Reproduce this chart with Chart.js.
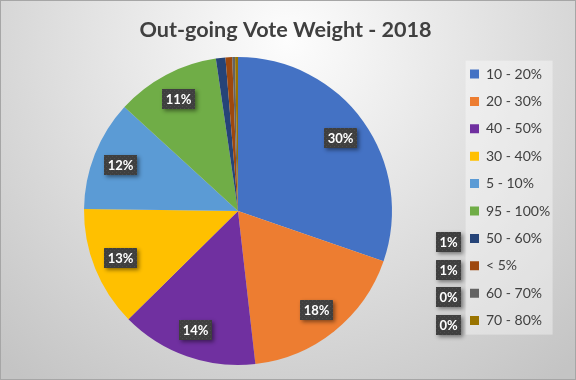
<!DOCTYPE html>
<html><head><meta charset="utf-8">
<script src="https://cdn.jsdelivr.net/npm/chart.js@4"></script>
<style>html,body{margin:0;padding:0;background:#fff}canvas{display:block}</style>
</head><body>
<canvas id="c" width="576" height="380"></canvas>
<script>
const titleText = 'Out-going Vote Weight - 2018';
const categories = ['10 - 20%','20 - 30%','40 - 50%','30 - 40%','5 - 10%','95 - 100%','50 - 60%','< 5%','60 - 70%','70 - 80%'];
const shares = [30.3, 17.9, 14.4, 12.6, 11.6, 10.9, 1.0, 0.7, 0.3, 0.3];
const sliceColors = ['#4472C4','#ED7D31','#7030A0','#FFC000','#5B9BD5','#70AD47','#264478','#9E480E','#636363','#997300'];

const LEG_PAD = 13.4;
const ITEM_H = 14;

function makePattern(ctx) {
  const p = document.createElement('canvas');
  p.width = 4; p.height = 4;
  const g = p.getContext('2d');
  g.fillStyle = '#3f3f3f'; g.fillRect(0, 0, 4, 4);
  g.fillStyle = '#4c4c4c'; g.fillRect(0, 0, 1, 1); g.fillRect(2, 2, 1, 1);
  return ctx.createPattern(p, 'repeat');
}

const bgPlugin = {
  id: 'bg',
  beforeDraw(chart) {
    const {ctx, width, height} = chart;
    ctx.save();
    const g = ctx.createRadialGradient(288, 40, 0, 288, 40, 430);
    g.addColorStop(0, '#fdfdfd');
    g.addColorStop(1, '#c4c4c4');
    ctx.fillStyle = g;
    ctx.fillRect(0, 0, width, height);
    const lg = chart.legend;
    ctx.fillStyle = 'rgba(255,255,255,0.38)';
    ctx.fillRect(lg.left + 9, lg.top + 7, 87, 274);
    ctx.strokeStyle = '#a6a6a6';
    ctx.lineWidth = 1;
    ctx.strokeRect(0.5, 0.5, width - 1, height - 1);
    ctx.restore();
  }
};

function drawTag(ctx, pattern, text, cx, cy) {
  ctx.save();
  ctx.font = 'bold 13px Lato';
  const w = Math.round(ctx.measureText(text).width + 7);
  const h = 20;
  const x = Math.round(cx - w / 2), y = Math.round(cy - h / 2);
  ctx.shadowColor = 'rgba(0,0,0,0.45)';
  ctx.shadowBlur = 4; ctx.shadowOffsetX = 2; ctx.shadowOffsetY = 2;
  ctx.fillStyle = '#3f3f3f';
  ctx.fillRect(x, y, w, h);
  ctx.shadowColor = 'transparent';
  ctx.fillStyle = pattern;
  ctx.fillRect(x, y, w, h);
  ctx.fillStyle = '#ffffff';
  ctx.textAlign = 'center';
  ctx.textBaseline = 'middle';
  ctx.fillText(text, x + w / 2, y + h / 2 + 0.5);
  ctx.restore();
}

const labelPlugin = {
  id: 'tags',
  afterDraw(chart) {
    const ctx = chart.ctx;
    const pattern = makePattern(ctx);
    const meta = chart.getDatasetMeta(0);
    const data = chart.data.datasets[0].data;
    const total = data.reduce((a, b) => a + b, 0);
    const lg = chart.legend;
    meta.data.forEach((arc, i) => {
      const pct = data[i] / total * 100;
      const text = Math.round(pct) + '%';
      if (pct >= 3) {
        const p = arc.getProps(['x','y','startAngle','endAngle','outerRadius']);
        const mid = (p.startAngle + p.endAngle) / 2;
        const r = p.outerRadius * 0.82;
        drawTag(ctx, pattern, text, p.x + Math.cos(mid) * r, p.y + Math.sin(mid) * r);
      } else {
        const iy = lg.top + LEG_PAD + i * (ITEM_H + LEG_PAD) + ITEM_H / 2 + 4;
        drawTag(ctx, pattern, text, lg.left - 8, iy);
      }
    });
  }
};

new Chart(document.getElementById('c'), {
  type: 'pie',
  data: {
    labels: categories,
    datasets: [{
      data: shares,
      backgroundColor: sliceColors,
      borderWidth: 0,
      radius: 154
    }]
  },
  options: {
    responsive: false,
    animation: false,
    devicePixelRatio: 1,
    layout: { padding: { left: 19.4, right: 24.4, top: 0, bottom: 11.6 } },
    plugins: {
      title: {
        display: true,
        text: titleText,
        color: '#404040',
        font: { family: 'Lato', size: 21.6, weight: 'bold', lineHeight: 1.2 },
        padding: { top: 17, bottom: 10.7 }
      },
      legend: {
        position: 'right',
        fullSize: false,
        align: 'start',
        maxWidth: 95,
        labels: {
          boxWidth: 9,
          boxHeight: 9,
          padding: LEG_PAD,
          color: '#404040',
          font: { family: 'Lato', size: 14 }
        }
      },
      tooltip: { enabled: false }
    }
  },
  plugins: [bgPlugin, labelPlugin]
});
</script>
</body></html>
